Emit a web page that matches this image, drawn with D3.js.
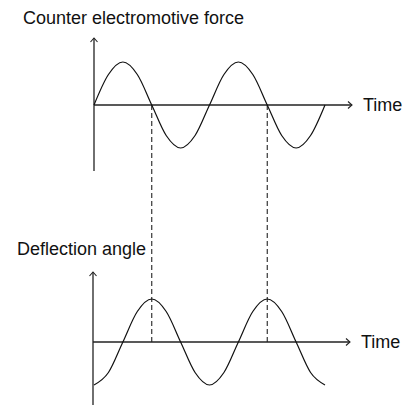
<html>
<head>
<script src="https://d3js.org/d3.v7.min.js"></script>
<style>
body { margin: 0; background: #fff; }
svg text { font-family: 'Liberation Sans', Arial, sans-serif; font-size: 18px; fill: #111; }
</style>
</head>
<body>
<div id="chart"></div>
<script>
// time in quarter periods, sampled every eighth of a period
var times = [0, 0.5, 1, 1.5, 2, 2.5, 3, 3.5, 4, 4.5, 5, 5.5, 6, 6.5, 7, 7.5, 8];
// counter electromotive force (relative)
var emf = [0, 0.71, 1, 0.71, 0, -0.71, -1, -0.71, 0, 0.71, 1, 0.71, 0, -0.71, -1, -0.71, 0];
// deflection angle (relative)
var angle = [-1, -0.71, 0, 0.71, 1, 0.71, 0, -0.71, -1, -0.71, 0, 0.71, 1, 0.71, 0, -0.71, -1];
// times where dashed guides are drawn
var guides = [2, 6];
var axisLabel = "Time";
var titles = ["Counter electromotive force", "Deflection angle"];

var svg = d3.select("#chart").append("svg")
  .attr("width", 406).attr("height", 405);

var x = d3.scaleLinear().domain([0, 8]).range([94, 325]);
var yTop = d3.scaleLinear().domain([-1, 1]).range([148, 62]);
var yBot = d3.scaleLinear().domain([-1, 1]).range([385, 299]);

var ink = "#222";

function drawAxes(y, x0, top, bottom, xEnd) {
  var y0 = y(0);
  svg.append("line").attr("x1", x0).attr("x2", x0).attr("y1", top).attr("y2", bottom)
    .attr("stroke", ink).attr("stroke-width", 1.3);
  svg.append("path").attr("d", "M" + (x0 - 3.5) + "," + (top + 4) + "L" + x0 + "," + top + "L" + (x0 + 3.5) + "," + (top + 4))
    .attr("fill", "none").attr("stroke", ink).attr("stroke-width", 1.1);
  svg.append("line").attr("x1", x0).attr("x2", xEnd).attr("y1", y0).attr("y2", y0)
    .attr("stroke", ink).attr("stroke-width", 1.3);
  svg.append("path").attr("d", "M" + (xEnd - 4) + "," + (y0 - 3.5) + "L" + xEnd + "," + y0 + "L" + (xEnd - 4) + "," + (y0 + 3.5))
    .attr("fill", "none").attr("stroke", ink).attr("stroke-width", 1.1);
  svg.append("text").attr("x", xEnd + 11).attr("y", y0 + 6).text(axisLabel);
}

// dashed guides from upper axis to lower axis
svg.selectAll(".guide").data(guides).enter().append("line")
  .attr("class", "guide")
  .attr("x1", function(d) { return x(d); }).attr("x2", function(d) { return x(d); })
  .attr("y1", yTop(0)).attr("y2", yBot(0))
  .attr("stroke", ink).attr("stroke-width", 1.1).attr("stroke-dasharray", "5,3");

drawAxes(yTop, 94, 38, 171, 352);
drawAxes(yBot, 93, 272, 405, 350);

var lineTop = d3.line().x(function(d, i) { return x(times[i]); }).y(function(d) { return yTop(d); }).curve(d3.curveMonotoneX);
var lineBot = d3.line().x(function(d, i) { return x(times[i]); }).y(function(d) { return yBot(d); }).curve(d3.curveMonotoneX);

svg.append("path").attr("d", lineTop(emf)).attr("fill", "none").attr("stroke", "#111").attr("stroke-width", 1.2);
svg.append("path").attr("d", lineBot(angle)).attr("fill", "none").attr("stroke", "#111").attr("stroke-width", 1.2);

svg.append("text").attr("x", 23).attr("y", 24).text(titles[0]);
svg.append("text").attr("x", 17).attr("y", 255).text(titles[1]);
</script>
</body>
</html>
